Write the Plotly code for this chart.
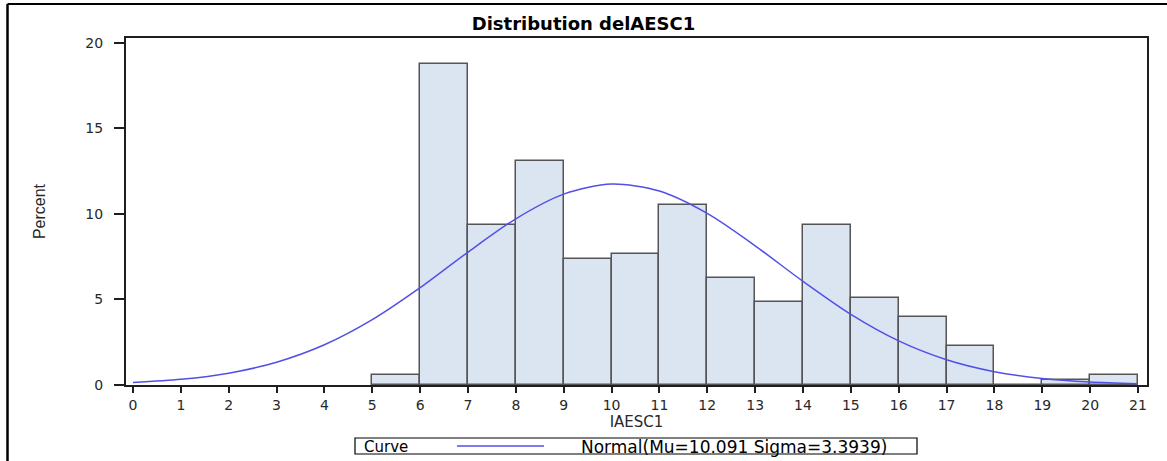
import plotly.graph_objects as go

# Histogram bins (left edges) and percent heights
bin_left = [5, 6, 7, 8, 9, 10, 11, 12, 13, 14, 15, 16, 17, 18, 19, 20]
bin_pct = [0.57, 18.75, 9.37, 13.07, 7.39, 7.67, 10.51, 6.25, 4.83, 9.38, 5.11, 3.98, 2.27, 0.0, 0.28, 0.57]

# Fitted normal curve (percent scale)
curve_x = [0, 1, 2, 3, 4, 5, 6, 7, 8, 9, 10, 11, 12, 13, 14, 15, 16, 17, 18, 19, 20, 21]
curve_y = [0.14, 0.33, 0.69, 1.33, 2.35, 3.82, 5.69, 7.77, 9.72, 11.16, 11.75, 11.34,
           10.03, 8.14, 6.06, 4.13, 2.58, 1.48, 0.78, 0.38, 0.17, 0.07]

x_ticks = list(range(0, 22))
y_ticks = [0, 5, 10, 15, 20]

title_text = "Distribution delAESC1"
x_title = "IAESC1"
y_title = "Percent"
legend_label = "Curve"
curve_name = "Normal(Mu=10.091 Sigma=3.3939)"

BAR_FILL = "rgb(219,229,241)"
BAR_EDGE = "rgb(85,85,85)"
CURVE_COLOR = "rgb(80,80,232)"
AXIS_COLOR = "rgb(30,30,30)"
TEXT_FONT = "DejaVu Sans, Liberation Sans, Arial, sans-serif"

fig = go.Figure()
fig.add_trace(go.Bar(
    x=[b + 0.5 for b in bin_left],
    y=bin_pct,
    width=1,
    marker=dict(color=BAR_FILL, line=dict(color=BAR_EDGE, width=1.5)),
    showlegend=False,
    hoverinfo="x+y",
))
fig.add_trace(go.Scatter(
    x=curve_x, y=curve_y, mode="lines",
    line=dict(color=CURVE_COLOR, width=1.5, shape="spline", smoothing=0.8),
    name=curve_name, showlegend=False,
))

# Layout geometry (pixels)
W, H = 1167, 461
L, R, T, B = 126, 1147, 38, 385

def px(x):
    return (x - L) / (R - L)

def py(y):
    return (B - y) / (B - T)

shapes = [
    # page frame fragments (left and top border of the document)
    dict(type="line", xref="paper", yref="paper", x0=px(7.5), x1=px(1167), y0=py(4), y1=py(4),
         line=dict(color="black", width=2)),
    dict(type="line", xref="paper", yref="paper", x0=px(7.5), x1=px(7.5), y0=py(4), y1=py(461),
         line=dict(color="black", width=2.5)),
    # legend box
    dict(type="rect", xref="paper", yref="paper", x0=px(355), x1=px(917), y0=py(438), y1=py(454),
         line=dict(color="black", width=1.2), fillcolor="white"),
    # legend sample line
    dict(type="line", xref="paper", yref="paper", x0=px(457), x1=px(544), y0=py(446), y1=py(446),
         line=dict(color=CURVE_COLOR, width=1.5)),
]

annotations = [
    dict(text=legend_label, xref="paper", yref="paper", x=px(362), y=py(446.5),
         xanchor="left", yanchor="middle", showarrow=False,
         font=dict(family=TEXT_FONT, size=15, color="black")),
    dict(text=curve_name, xref="paper", yref="paper", x=px(734), y=py(446.5),
         xanchor="center", yanchor="middle", showarrow=False,
         font=dict(family=TEXT_FONT, size=17, color="black")),
]

fig.update_layout(
    width=W, height=H,
    margin=dict(l=L, r=W - R, t=T, b=H - B, pad=0),
    paper_bgcolor="white", plot_bgcolor="white",
    bargap=0,
    title=dict(text="<b>" + title_text + "</b>", x=px((L + R) / 2), xanchor="center",
               y=1 - 24 / H, yanchor="middle",
               font=dict(family=TEXT_FONT, size=18, color="black")),
    shapes=shapes,
    annotations=annotations,
    showlegend=False,
)

fig.update_xaxes(
    range=[-0.146, 21.188],
    tickmode="array", tickvals=x_ticks, ticktext=[str(t) for t in x_ticks],
    ticks="outside", ticklen=6, tickwidth=1.5, tickcolor=AXIS_COLOR,
    showline=True, linecolor=AXIS_COLOR, linewidth=2, mirror=True,
    showgrid=False, zeroline=False,
    tickfont=dict(family=TEXT_FONT, size=14, color="rgb(40,40,40)"),
    title=dict(text=x_title, standoff=2,
               font=dict(family=TEXT_FONT, size=15, color="rgb(40,40,40)")),
)
fig.update_yaxes(
    range=[0, 20.29],
    tickmode="array", tickvals=y_ticks, ticktext=[str(t) for t in y_ticks],
    ticks="outside", ticklen=10, tickwidth=1.5, tickcolor=AXIS_COLOR,
    ticklabelstandoff=8,
    showline=True, linecolor=AXIS_COLOR, linewidth=2, mirror=True,
    showgrid=False, zeroline=False,
    tickfont=dict(family=TEXT_FONT, size=14, color="rgb(40,40,40)"),
    title=dict(text=y_title, standoff=36,
               font=dict(family="Liberation Sans Narrow, Liberation Sans, Arial, sans-serif",
                         size=16, color="rgb(40,40,40)")),
)

fig.write_html("out.html", config={"displayModeBar": False},
               post_script="document.body.style.margin='0';")
